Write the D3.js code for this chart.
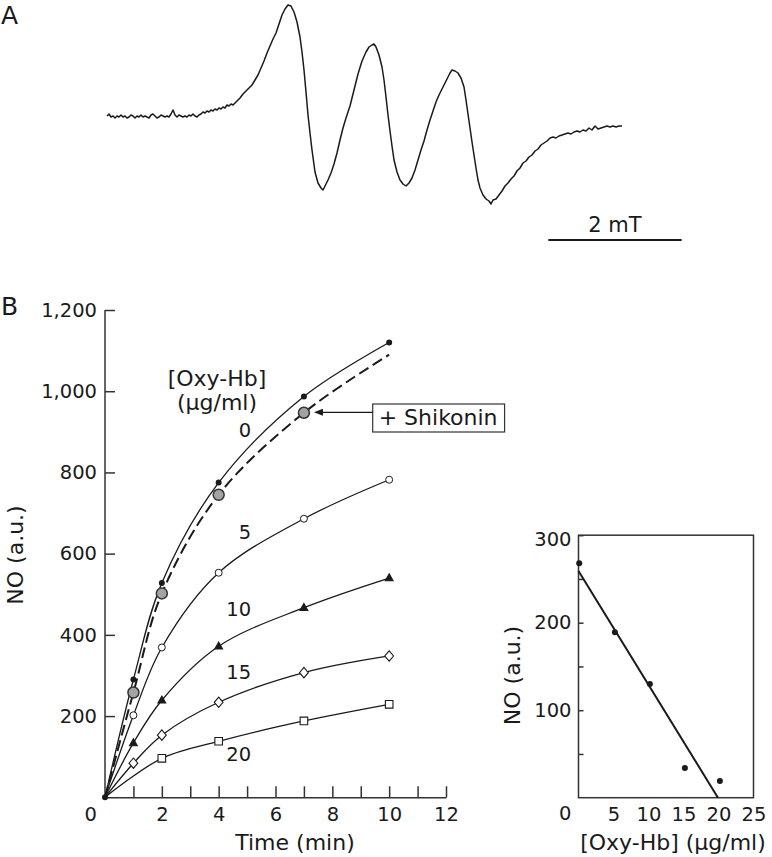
<!DOCTYPE html>
<html>
<head>
<meta charset="utf-8">
<script src="https://cdn.jsdelivr.net/npm/d3@7"></script>
<style>
  body { margin: 0; background: #fff; }
  svg { display: block; font-family: "DejaVu Sans", Verdana, sans-serif; }
</style>
</head>
<body>
<div id="chart"></div>
<script>
// ---- panel A: ESR spectrum (field in G from sweep start, signal in a.u.)
const specField = [0, 0.3, 0.6, 0.9, 1.2, 1.5, 1.8, 2.1, 2.4, 2.7, 3.0, 3.3, 3.6, 3.9, 4.2, 4.5, 4.8, 5.1, 5.4, 5.7,
  6.0, 6.3, 6.6, 6.9, 7.2, 7.5, 7.8, 8.1, 8.4, 8.7, 9.0, 9.3, 9.6, 9.9, 10.2, 10.5, 10.8, 11.1, 11.4, 11.7,
  12.0, 12.3, 12.6, 12.9, 13.2, 13.5, 13.8, 14.1, 14.4, 14.7, 15.0, 15.3, 15.6, 15.9, 16.2, 16.5, 16.8, 17.1, 17.4, 17.7,
  18.0, 18.3, 18.6, 18.9, 19.2, 19.5, 19.95, 20.4, 20.85, 21.3, 21.75, 22.2, 22.65, 23.1, 23.55, 24.0, 24.45, 24.9, 25.35, 25.8,
  26.25, 26.7, 27.15, 27.6, 28.05, 28.5, 28.95, 29.25, 29.55, 29.85, 30.15, 30.45, 30.75, 31.2, 31.65, 32.1, 32.4, 32.7, 33.15, 33.6,
  34.05, 34.5, 34.95, 35.4, 35.85, 36.45, 37.05, 37.65, 38.25, 38.85, 39.3, 39.75, 40.05, 40.35, 40.8, 41.25, 41.55, 41.85, 42.15, 42.45,
  42.75, 43.05, 43.5, 43.95, 44.4, 44.85, 45.3, 45.75, 46.2, 46.65, 47.1, 47.55, 48.0, 48.45, 48.9, 49.35, 49.8, 50.25, 50.7, 51.15,
  51.45, 51.75, 52.2, 52.65, 53.1, 53.55, 53.85, 54.15, 54.45, 54.75, 55.05, 55.35, 55.65, 55.95, 56.4, 56.85, 57.3, 57.6, 57.9, 58.35,
  58.8, 59.25, 59.7, 60.15, 60.6, 61.05, 61.5, 61.95, 62.4, 62.85, 63.3, 63.75, 64.2, 64.65, 65.1, 65.55, 66.0, 66.45, 66.9, 67.35,
  67.8, 68.25, 68.7, 69.15, 69.6, 70.05, 70.5, 70.95, 71.4, 71.85, 72.3, 72.75, 73.2, 73.65, 74.1, 74.55, 75.0, 75.45, 75.9, 76.35,
  76.8, 77.25]
const specSignal = [1, 3, 0, 1, -1, 1, 0, 2, 0, 1, -1, 0, 2, 1, -1, 1, 0, 2, 0, 1,
  0, -1, 2, 3, 1, -1, 0, 2, 1, 0, 1, 0, 3, 7, 2, 0, 2, 1, 0, 1,
  0, 2, 1, 3, 1, 0, 2, 3, 5, 4, 6, 5, 7, 6, 8, 7, 9, 8, 10, 9,
  12, 11, 13, 12, 14, 16, 19, 23, 26, 29, 32, 37, 42, 49, 56, 64, 71, 78, 84, 93,
  102, 108, 112, 111, 105, 95, 80, 65, 47, 25, 2, -16, -33, -55, -66, -71, -73, -69, -63, -56,
  -47, -36, -23, -11, -1, 11, 27, 43, 56, 65, 70, 72, 73, 70, 62, 50, 37, 20, 2, -14,
  -29, -43, -55, -63, -67, -69, -66, -61, -53, -43, -33, -24, -13, -3, 6, 15, 22, 28, 34, 40,
  44, 47, 46, 44, 39, 30, 17, 3, -11, -25, -38, -51, -63, -71, -78, -82, -84, -87, -83, -82,
  -78, -74, -69, -66, -62, -59, -54, -51, -46, -44, -40, -38, -34, -32, -28, -26, -24, -21, -20, -21,
  -19, -18, -17, -16, -17, -15, -14, -15, -13, -14, -11, -13, -9, -12, -11, -10, -9, -10, -9, -10,
  -9, -9]
const scaleBarStart = 66.2   // G
const scaleBarLength = 20    // G = 2 mT
const scaleBarText = '2 mT'

// ---- panel B left: NO vs time for each [Oxy-Hb]
const times = [0, 1, 2, 4, 7, 10]
const no0 = [0, 290, 528, 775, 987, 1120]
const no5 = [0, 202, 369, 553, 686, 782]
const no10 = [0, 134, 239, 372, 467, 540]
const no15 = [0, 84, 153, 234, 307, 348]
const times20 = [0, 2, 4, 7, 10]
const no20 = [0, 96, 138, 188, 229]
const timesShik = [0, 1, 2, 4, 7, 10]
const noShik = [0, 258, 502, 745, 947, 1090]
const oxyLabels = ['0', '5', '10', '15', '20']
const yTicksMain = [200, 400, 600, 800, 1000, 1200]
const xTicksMain = [1, 2, 3, 4, 5, 6, 7, 8, 9, 10, 11, 12]
const xLabelsMain = [2, 4, 6, 8, 10, 12]

// ---- panel B right: NO vs [Oxy-Hb]
const oxyHb = [0.1, 5.2, 10.2, 15.2, 20.2]
const noAtOxy = [268, 189, 130, 34, 19]
const fitIntercept = 259
const fitSlope = -13.0
const yTicksRight = [50, 100, 150, 200, 250, 300]
const xTicksRight = [5, 10, 15, 20, 25]

const W = 772, H = 857
const INK = '#1a1a1a'
const AXIS = '#333'

const svg = d3.select('#chart').append('svg')
  .attr('width', W).attr('height', H)

// ================= panel A
svg.append('text').attr('x', 1).attr('y', 24)
  .style('font-size', '25px').attr('fill', INK).text('A')

const fx = d3.scaleLinear().domain([0, 77.25]).range([107, 622])
const fy = d3.scaleLinear().domain([-100, 120]).range([217, -3])

svg.append('path')
  .datum(d3.zip(specField, specSignal))
  .attr('d', d3.line().x(d => fx(d[0])).y(d => fy(d[1])))
  .attr('fill', 'none')
  .attr('stroke', INK)
  .attr('stroke-width', 1.5)
  .attr('stroke-linejoin', 'round')

svg.append('line')
  .attr('x1', fx(scaleBarStart)).attr('x2', fx(scaleBarStart + scaleBarLength))
  .attr('y1', 240).attr('y2', 240)
  .attr('stroke', INK).attr('stroke-width', 2)
svg.append('text')
  .attr('x', fx(scaleBarStart + scaleBarLength / 2)).attr('y', 232)
  .attr('text-anchor', 'middle').style('font-size', '21px').attr('fill', INK)
  .text(scaleBarText)

// ================= panel B left
svg.append('text').attr('x', 1).attr('y', 315)
  .style('font-size', '25px').attr('fill', INK).text('B')

const x = d3.scaleLinear().domain([0, 12]).range([105, 446])
const y = d3.scaleLinear().domain([0, 1200]).range([797.3, 310])

const gY = svg.append('g')
  .attr('transform', `translate(${x(0)},0)`)
  .call(d3.axisLeft(y).tickValues(yTicksMain).tickFormat(d3.format(','))
    .tickSizeInner(-10).tickSizeOuter(0).tickPadding(8))
gY.select('.domain').attr('d', `M0,${y(0)}V${y(1200)}`)

const gX = svg.append('g')
  .attr('transform', `translate(0,${y(0)})`)
  .call(d3.axisBottom(x).tickValues(xTicksMain)
    .tickFormat(d => xLabelsMain.includes(d) ? d : '')
    .tickSizeInner(-11).tickSizeOuter(0).tickPadding(10))

;[gY, gX].forEach(g => {
  g.selectAll('.domain, .tick line').attr('stroke', AXIS).attr('stroke-width', 1.5)
  g.selectAll('text').style('font-size', '19.5px').attr('fill', INK)
  g.attr('font-family', null).attr('font-size', null)
})

svg.append('text').attr('x', 97).attr('y', 821)
  .attr('text-anchor', 'end').style('font-size', '19.5px').attr('fill', INK).text('0')

svg.append('text')
  .attr('transform', `translate(23,555) rotate(-90)`)
  .attr('text-anchor', 'middle').style('font-size', '22px').attr('fill', INK)
  .text('NO (a.u.)')
svg.append('text').attr('x', 295).attr('y', 850)
  .attr('text-anchor', 'middle').style('font-size', '22px').attr('fill', INK)
  .text('Time (min)')

const series = [
  { t: times, v: no0, mark: 'dot' },
  { t: times, v: no5, mark: 'circle' },
  { t: times, v: no10, mark: 'triangle' },
  { t: times, v: no15, mark: 'diamond' },
  { t: times20, v: no20, mark: 'square' }
]

const line = d3.line().curve(d3.curveCatmullRom.alpha(0.5))
  .x(d => x(d[0])).y(d => y(d[1]))

// + Shikonin dashed curve
const shikPts = d3.zip(timesShik, noShik)
svg.append('path').datum(shikPts)
  .attr('d', line)
  .attr('fill', 'none').attr('stroke', INK)
  .attr('stroke-width', 2).attr('stroke-dasharray', '11,5')

series.forEach(s => {
  svg.append('path').datum(d3.zip(s.t, s.v))
    .attr('d', line)
    .attr('fill', 'none').attr('stroke', INK).attr('stroke-width', 1.3)
})

const markPath = {
  triangle: 'M0,-4.2L3.9,2.8L-3.9,2.8Z',
  diamond: 'M0,-5.2L4.4,0L0,5.2L-4.4,0Z',
  square: 'M-3.8,-3.8H3.8V3.8H-3.8Z'
}

series.forEach(s => {
  const pts = d3.zip(s.t, s.v).filter(d => d[0] > 0)
  const g = svg.append('g')
  pts.forEach(([t, v]) => {
    const cx = x(t), cy = y(v)
    if (s.mark === 'dot') {
      g.append('circle').attr('cx', cx).attr('cy', cy).attr('r', 3).attr('fill', INK)
    } else if (s.mark === 'circle') {
      g.append('circle').attr('cx', cx).attr('cy', cy).attr('r', 3.5)
        .attr('fill', '#fff').attr('stroke', INK).attr('stroke-width', 1)
    } else {
      g.append('path').attr('transform', `translate(${cx},${cy})`)
        .attr('d', markPath[s.mark])
        .attr('fill', s.mark === 'triangle' ? INK : '#fff')
        .attr('stroke', INK).attr('stroke-width', 1.1)
    }
  })
})

// gray shikonin markers (measured points only)
shikPts.filter(d => d[0] > 0 && d[0] < 10).forEach(([t, v]) => {
  svg.append('circle').attr('cx', x(t)).attr('cy', y(v)).attr('r', 5.5)
    .attr('fill', '#a3a3a3').attr('stroke', '#333').attr('stroke-width', 1.5)
})

// origin dot
svg.append('circle').attr('cx', x(0)).attr('cy', y(0)).attr('r', 3).attr('fill', INK)

// legend title and curve labels
svg.append('text').attr('x', 217).attr('y', 386)
  .attr('text-anchor', 'middle').style('font-size', '22px').attr('fill', INK).text('[Oxy-Hb]')
svg.append('text').attr('x', 217).attr('y', 410)
  .attr('text-anchor', 'middle').style('font-size', '22px').attr('fill', INK).text('(µg/ml)')

const labelSpots = [[5.14, 887], [5.14, 637], [5.14, 446], [5.14, 291], [5.14, 90]]
oxyLabels.forEach((lab, i) => {
  svg.append('text')
    .attr('x', x(labelSpots[i][0])).attr('y', y(labelSpots[i][1]))
    .attr('text-anchor', 'end').style('font-size', '19.5px').attr('fill', INK)
    .text(lab)
})

// "+ Shikonin" callout
const boxX = 372.7, boxY = 404
const callText = svg.append('text').attr('x', boxX + 6).attr('y', 425)
  .style('font-size', '22px').attr('fill', INK).text('+ Shikonin')
const tw = callText.node().getComputedTextLength()
svg.insert('rect', 'text')
  .attr('x', boxX).attr('y', boxY).attr('width', tw + 13).attr('height', 28)
  .attr('fill', '#fff').attr('stroke', AXIS).attr('stroke-width', 1.2)
const arrowY = 412.3
const tipX = x(7) + 10
svg.append('line').attr('x1', boxX).attr('x2', tipX + 7)
  .attr('y1', arrowY).attr('y2', arrowY)
  .attr('stroke', INK).attr('stroke-width', 1.3)
svg.append('path')
  .attr('d', `M${tipX},${arrowY}L${tipX + 9},${arrowY - 3.5}L${tipX + 9},${arrowY + 3.5}Z`)
  .attr('fill', INK)

// ================= panel B right
const rx = d3.scaleLinear().domain([0, 25]).range([578.5, 753.5])
const ry = d3.scaleLinear().domain([0, 300]).range([797.7, 535.2])

svg.append('rect')
  .attr('x', rx(0)).attr('y', ry(300))
  .attr('width', rx(25) - rx(0)).attr('height', ry(0) - ry(300))
  .attr('fill', 'none').attr('stroke', AXIS).attr('stroke-width', 1.5)

const gRY = svg.append('g')
  .attr('transform', `translate(${rx(0)},0)`)
  .call(d3.axisLeft(ry).tickValues(yTicksRight)
    .tickFormat(d => d % 100 === 0 ? d : '')
    .tickSizeInner(-5).tickSizeOuter(0).tickPadding(7))
const gRX = svg.append('g')
  .attr('transform', `translate(0,${ry(0)})`)
  .call(d3.axisBottom(rx).tickValues(xTicksRight)
    .tickSizeInner(0).tickSizeOuter(0).tickPadding(9))
;[gRY, gRX].forEach(g => {
  g.select('.domain').remove()
  g.selectAll('.tick line').attr('stroke', AXIS).attr('stroke-width', 1.5)
  g.selectAll('text').style('font-size', '19.5px').attr('fill', INK)
  g.attr('font-family', null).attr('font-size', null)
})
// top label sits a little below its tick, as in the original
gRY.selectAll('.tick').filter(d => d === 300).select('text').attr('y', 4)
svg.append('text').attr('x', 571.5).attr('y', 820)
  .attr('text-anchor', 'end').style('font-size', '19.5px').attr('fill', INK).text('0')

const fitEnd = -fitIntercept / fitSlope
svg.append('line')
  .attr('x1', rx(0)).attr('y1', ry(fitIntercept))
  .attr('x2', rx(fitEnd)).attr('y2', ry(0))
  .attr('stroke', INK).attr('stroke-width', 2)

d3.zip(oxyHb, noAtOxy).forEach(([c, v]) => {
  svg.append('circle').attr('cx', rx(c)).attr('cy', ry(v)).attr('r', 3).attr('fill', INK)
})

svg.append('text')
  .attr('transform', `translate(520,675.5) rotate(-90)`)
  .attr('text-anchor', 'middle').style('font-size', '22px').attr('fill', INK)
  .text('NO (a.u.)')
svg.append('text').attr('x', 673).attr('y', 850)
  .attr('text-anchor', 'middle').style('font-size', '22px').attr('fill', INK)
  .text('[Oxy-Hb] (µg/ml)')
</script>
</body>
</html>
